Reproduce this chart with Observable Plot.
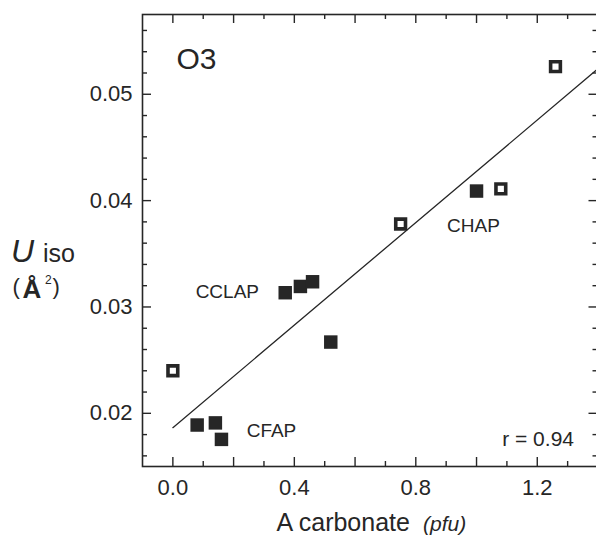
<!DOCTYPE html>
<html><head><meta charset="utf-8">
<script src="https://cdn.jsdelivr.net/npm/d3@7"></script>
<script src="https://cdn.jsdelivr.net/npm/@observablehq/plot@0.6"></script>
<style>html,body{margin:0;padding:0;overflow:hidden;background:#fff}</style>
</head><body><div id="chart"></div>
<script>
// Data
const openX = [0.0, 0.75, 1.08, 1.26];
const openY = [0.0240, 0.0378, 0.0411, 0.0526];
const filledX = [0.08, 0.14, 0.16, 0.37, 0.42, 0.46, 0.52, 1.0];
const filledY = [0.0189, 0.0191, 0.01755, 0.03134, 0.03193, 0.03237, 0.0267, 0.0409];
const fitX = [0.0, 1.4];
const fitY = [0.01865, 0.0524];
const groupLabels = ["CCLAP", "CFAP", "CHAP"];
const groupX = [0.075, 0.243, 0.903];
const groupY = [0.03144, 0.01838, 0.03759];
const xMajor = [0.0, 0.2, 0.4, 0.6, 0.8, 1.0, 1.2];
const xMinor = [0.1, 0.3, 0.5, 0.7, 0.9, 1.1, 1.3];
const xLabels = [0.0, 0.4, 0.8, 1.2];
const yMajor = [0.02, 0.03, 0.04, 0.05];
const yMinor = [0.016, 0.018, 0.022, 0.024, 0.026, 0.028, 0.032, 0.034, 0.036, 0.038,
                0.042, 0.044, 0.046, 0.048, 0.052, 0.054, 0.056];
const yLabels = [0.02, 0.03, 0.04, 0.05];
const panelLabel = "O3";
const rLabel = "r = 0.94";

const W = 598, H = 537, ML = 142, MR = 0.5, MT = 14, MB = 71;
const PW = W - ML - MR, PH = H - MT - MB;
const ink = "#262626";
const font = "'Liberation Sans', Arial, Helvetica, sans-serif";

const openData = openX.map((x, i) => ({x, y: openY[i]}));
const filledData = filledX.map((x, i) => ({x, y: filledY[i]}));
const fitData = fitX.map((x, i) => ({x, y: fitY[i]}));
const groupData = groupLabels.map((t, i) => ({t, x: groupX[i], y: groupY[i]}));

const tickOpts = {stroke: ink, strokeWidth: 1.4};
const plot = Plot.plot({
  width: W, height: H,
  marginLeft: ML, marginRight: MR, marginTop: MT, marginBottom: MB,
  style: {fontFamily: font, background: "#fff", color: ink, overflow: "visible", maxWidth: "none"},
  x: {domain: [-0.1, 1.4]},
  y: {domain: [0.015, 0.0575]},
  marks: [
    Plot.line(fitData, {x: "x", y: "y", stroke: ink, strokeWidth: 1.3}),
    Plot.dot(filledData, {x: "x", y: "y", symbol: "square", r: 7.6, fill: ink, stroke: "none"}),
    Plot.dot(openData, {x: "x", y: "y", symbol: "square", r: 5.5, fill: "white", stroke: ink, strokeWidth: 3.6}),
    // inward ticks on four sides
    Plot.tickX(xMajor, {x: d => d, insetTop: PH - 9, ...tickOpts}),
    Plot.tickX(xMinor, {x: d => d, insetTop: PH - 5, ...tickOpts}),
    Plot.tickX(xMajor, {x: d => d, insetBottom: PH - 9, ...tickOpts}),
    Plot.tickX(xMinor, {x: d => d, insetBottom: PH - 5, ...tickOpts}),
    Plot.tickY(yMajor, {y: d => d, insetRight: PW - 9, ...tickOpts}),
    Plot.tickY(yMinor, {y: d => d, insetRight: PW - 5, ...tickOpts}),
    Plot.tickY(yMajor, {y: d => d, insetLeft: PW - 9, ...tickOpts}),
    Plot.tickY(yMinor, {y: d => d, insetLeft: PW - 5, ...tickOpts}),
    Plot.frame({stroke: ink, strokeWidth: 1.6}),
    Plot.axisX({ticks: xLabels, anchor: "bottom", tickSize: 0, tickPadding: 12.4, fontSize: 22,
                tickFormat: d3.format(".1f"), label: null, fill: ink}),
    Plot.axisY({ticks: yLabels, anchor: "left", tickSize: 0, tickPadding: 10, fontSize: 22,
                tickFormat: d3.format(".2f"), label: null, fill: ink}),
    Plot.text(groupData, {x: "x", y: "y", text: "t", textAnchor: "start", lineAnchor: "middle",
                          fontSize: 19, fill: ink}),
    Plot.text([panelLabel], {frameAnchor: "top-left", textAnchor: "start", lineAnchor: "top",
                             dx: 34, dy: 33, fontSize: 30, fill: ink}),
    Plot.text([rLabel], {frameAnchor: "bottom-right", textAnchor: "end", lineAnchor: "middle",
                         dx: -24, dy: -27.7, fontSize: 21, fill: ink})
  ]
});
document.getElementById("chart").appendChild(plot);

// Axis titles with mixed styles
const svg = d3.select(plot);
const xt = svg.append("text").attr("y", 531).attr("fill", ink).attr("text-anchor", "start").style("font-family", font);
xt.append("tspan").attr("x", 276.5).attr("font-size", 25).text("A carbonate");
xt.append("tspan").attr("x", 423).attr("font-size", 21).attr("font-style", "italic").text("(pfu)");

const yt = svg.append("text").attr("y", 261.7).attr("fill", ink).attr("text-anchor", "start").style("font-family", font);
yt.append("tspan").attr("x", 11).attr("font-size", 32).attr("font-style", "italic").text("U");
yt.append("tspan").attr("x", 43).attr("font-size", 25).text("iso");

const yu = svg.append("text").attr("fill", ink).attr("text-anchor", "start").style("font-family", font);
yu.append("tspan").attr("x", 12.5).attr("y", 294).attr("font-size", 22).text("(");
yu.append("tspan").attr("x", 22.5).attr("y", 297.5).attr("font-size", 26).attr("font-weight", "bold").text("Å");
yu.append("tspan").attr("x", 45).attr("y", 283.5).attr("font-size", 12).text("2");
yu.append("tspan").attr("x", 52.5).attr("y", 294).attr("font-size", 22).text(")");
</script>
</body></html>
